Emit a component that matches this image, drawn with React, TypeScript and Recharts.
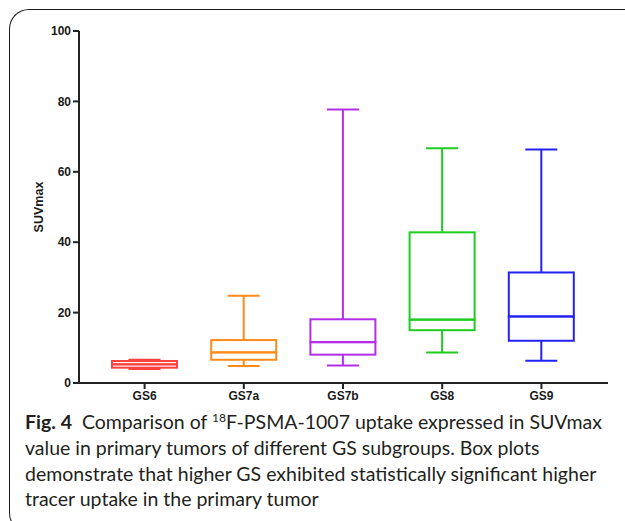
import React from 'react';
import { ComposedChart, Bar, XAxis, YAxis, Label } from 'recharts';

const categories = ['GS6', 'GS7a', 'GS7b', 'GS8', 'GS9'];
const minValues = [4.0, 4.8, 5.0, 8.7, 6.3];
const q1Values = [4.35, 6.6, 8.05, 15.0, 12.0];
const medianValues = [5.3, 8.7, 11.6, 18.0, 18.9];
const q3Values = [6.25, 12.2, 18.1, 42.8, 31.4];
const maxValues = [6.6, 24.8, 77.7, 66.7, 66.3];
const colors = ['#ff4040', '#ff8a1c', '#b42ee8', '#1fcc1f', '#2222f2'];
const yTicks = [0, 20, 40, 60, 80, 100];

const data = categories.map((name, i) => ({
  name,
  base: minValues[i],
  lowerWhisker: q1Values[i] - minValues[i],
  lowerBox: medianValues[i] - q1Values[i],
  upperBox: q3Values[i] - medianValues[i],
  upperWhisker: maxValues[i] - q3Values[i],
  color: colors[i],
}));

const CAP = 32;
const SW = 2;

const colorOf = (p: any) => (p.payload && p.payload.color) || colors[p.index] || '#000';

const LowerWhisker = (p: any) => {
  const { x, y, width, height } = p;
  const c = colorOf(p);
  const cx = x + width / 2;
  return (
    <g>
      <line x1={cx} x2={cx} y1={y} y2={y + height} stroke={c} strokeWidth={SW} />
      <line x1={cx - CAP / 2} x2={cx + CAP / 2} y1={y + height} y2={y + height} stroke={c} strokeWidth={SW} />
    </g>
  );
};

const UpperWhisker = (p: any) => {
  const { x, y, width, height } = p;
  const c = colorOf(p);
  const cx = x + width / 2;
  return (
    <g>
      <line x1={cx} x2={cx} y1={y} y2={y + height} stroke={c} strokeWidth={SW} />
      <line x1={cx - CAP / 2} x2={cx + CAP / 2} y1={y} y2={y} stroke={c} strokeWidth={SW} />
    </g>
  );
};

const BoxPart = (p: any) => {
  const { x, y, width, height } = p;
  const c = colorOf(p);
  return <rect x={x} y={y} width={width} height={height} fill="none" stroke={c} strokeWidth={SW} />;
};

const Empty = () => <g />;

const textColor = '#231f20';
const tickStyle = { fontSize: 12, fontWeight: 700, fill: '#1a1a1a', fontFamily: 'Liberation Sans, Arial, sans-serif' };

export default function App() {
  return (
    <div
      style={{
        position: 'absolute',
        left: 0,
        top: 0,
        width: 625,
        height: 521,
        overflow: 'hidden',
        background: '#fff',
      }}
    >
      <div
        style={{
          position: 'absolute',
          left: 9,
          top: 9,
          width: 640,
          height: 524,
          borderTop: '1.5px solid #1a1a1a',
          borderLeft: '1.5px solid #1a1a1a',
          borderBottom: '1.5px solid #1a1a1a',
          borderTopLeftRadius: 20,
          borderBottomLeftRadius: 20,
          boxSizing: 'border-box',
        }}
      />
      <div style={{ position: 'absolute', left: 0, top: 0 }}>
        <ComposedChart
          width={625}
          height={410}
          data={data}
          margin={{ top: 31, right: 17, left: 29, bottom: 7 }}
          barCategoryGap={0}
        >
          <XAxis
            dataKey="name"
            height={20}
            padding={{ left: 16, right: 17 }}
            axisLine={{ stroke: '#222', strokeWidth: 2 }}
            tickLine={{ stroke: '#222', strokeWidth: 2 }}
            tickSize={6}
            tick={tickStyle}
            interval={0}
          />
          <YAxis
            domain={[0, 100]}
            ticks={yTicks}
            width={50}
            axisLine={{ stroke: '#222', strokeWidth: 2 }}
            tickLine={{ stroke: '#222', strokeWidth: 2 }}
            tickSize={6}
            tick={tickStyle}
            allowDataOverflow
          >
            <Label
              value="SUVmax"
              angle={-90}
              position="insideLeft"
              offset={10}
              style={{ textAnchor: 'middle', fontSize: 12.5, fontWeight: 700, fill: '#1a1a1a', fontFamily: 'Liberation Sans, Arial, sans-serif' }}
            />
          </YAxis>
          <Bar dataKey="base" stackId="a" barSize={65} shape={<Empty />} isAnimationActive={false} />
          <Bar dataKey="lowerWhisker" stackId="a" barSize={65} shape={<LowerWhisker />} isAnimationActive={false} />
          <Bar dataKey="lowerBox" stackId="a" barSize={65} shape={<BoxPart />} isAnimationActive={false} />
          <Bar dataKey="upperBox" stackId="a" barSize={65} shape={<BoxPart />} isAnimationActive={false} />
          <Bar dataKey="upperWhisker" stackId="a" barSize={65} shape={<UpperWhisker />} isAnimationActive={false} />
        </ComposedChart>
      </div>
      <div
        style={{
          position: 'absolute',
          left: 25,
          top: 409,
          fontFamily: 'Lato, "Open Sans", sans-serif',
          fontSize: 19.5,
          lineHeight: '25.8px',
          color: textColor,
          whiteSpace: 'nowrap',
        }}
      >
        <div>
          <span style={{ fontWeight: 700 }}>Fig. 4</span>
          {'\u00a0 Comparison of '}
          <sup style={{ fontSize: 12, lineHeight: 0 }}>18</sup>
          {'F-PSMA-1007 uptake expressed in SUVmax'}
        </div>
        <div>value in primary tumors of different GS subgroups. Box plots</div>
        <div>demonstrate that higher GS exhibited statistically significant higher</div>
        <div>tracer uptake in the primary tumor</div>
      </div>
    </div>
  );
}
